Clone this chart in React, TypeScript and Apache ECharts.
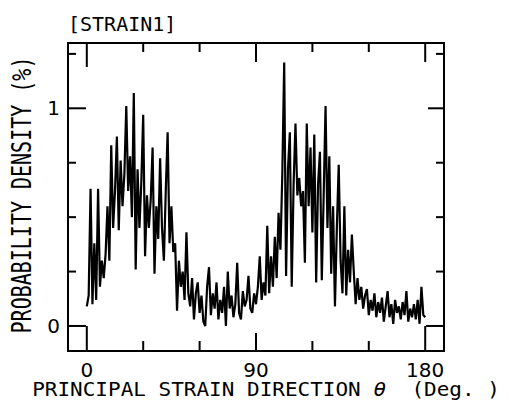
import React, { useEffect, useRef } from "react";
import * as echarts from "echarts";

// principal strain direction (deg), step of 1 deg from 0 to 180
const ANGLE_STEP = 1;
const density: number[] = [
  0.09, 0.14, 0.63, 0.10, 0.38, 0.12, 0.63, 0.18, 0.30, 0.22,
  0.33, 0.55, 0.30, 0.83, 0.45, 0.62, 0.87, 0.44, 0.76, 0.55,
  0.70, 1.01, 0.62, 0.78, 0.50, 1.07, 0.26, 0.72, 0.45, 0.66,
  0.97, 0.32, 0.60, 0.45, 0.58, 0.82, 0.24, 0.55, 0.40, 0.77,
  0.45, 0.30, 0.62, 0.89, 0.38, 0.55, 0.34, 0.38, 0.07, 0.30,
  0.18, 0.25, 0.12, 0.43, 0.15, 0.09, 0.22, 0.03, 0.15, 0.20,
  0.06, 0.14, 0.02, 0.00, 0.18, 0.27, 0.05, 0.15, 0.08, 0.20,
  0.03, 0.12, 0.06, 0.18, 0.00, 0.25, 0.08, 0.14, 0.04, 0.10,
  0.29, 0.06, 0.03, 0.16, 0.09, 0.12, 0.23, 0.08, 0.06, 0.15,
  0.10, 0.18, 0.32, 0.12, 0.20, 0.14, 0.46, 0.15, 0.32, 0.18,
  0.41, 0.22, 0.52, 0.35, 0.70, 1.21, 0.23, 0.72, 0.89, 0.18,
  0.65, 0.93, 0.60, 0.68, 0.55, 0.62, 0.29, 0.93, 0.55, 0.82,
  0.43, 0.88, 0.20, 0.65, 0.80, 0.21, 0.60, 1.01, 0.45, 0.78,
  0.24, 0.55, 0.09, 0.45, 0.74, 0.30, 0.15, 0.55, 0.14, 0.35,
  0.20, 0.42, 0.25, 0.10, 0.22, 0.12, 0.18, 0.08, 0.14, 0.17,
  0.05, 0.12, 0.07, 0.15, 0.04, 0.11, 0.06, 0.13, 0.02, 0.09,
  0.16, 0.04, 0.10, 0.01, 0.12, 0.06, 0.09, 0.03, 0.11, 0.05,
  0.16, 0.02, 0.08, 0.04, 0.10, 0.03, 0.12, 0.01, 0.18, 0.05,
  0.04,
];

const xLabelValues = [0, 90, 180];
const xTickValues = [0, 30, 60, 90, 120, 150, 180];
const yLabelValues = [0, 1];
const yTickValues = [0, 0.25, 0.5, 0.75, 1, 1.25];

const titleText = "[STRAIN1]";
const yTitle = "PROBABILITY DENSITY (%)";
const xTitleA = "PRINCIPAL STRAIN DIRECTION ";
const xTitleTheta = "θ";
const xTitleB = "  (Deg. )";

const X_MIN = -10;
const X_MAX = 190;
const Y_MIN = -0.115;
const Y_MAX = 1.3;

const MONO = '"DejaVu Sans Mono", monospace';
const TICK_STYLE = { stroke: "#000", lineWidth: 2 };

export default function App() {
  const ref = useRef<HTMLDivElement>(null);
  useEffect(() => {
    if (!ref.current) return;
    const chart = echarts.init(ref.current, null, { renderer: "svg" });
    const data = density.map((v, i) => [i * ANGLE_STEP, v]);

    const texts = [
      {
        type: "text",
        left: 68,
        top: 14,
        style: { text: titleText, font: `20px ${MONO}`, fill: "#000" },
      },
      {
        type: "text",
        x: 21,
        y: 195,
        rotation: Math.PI / 2,
        scaleY: 1.3,
        style: {
          text: yTitle,
          font: `20px ${MONO}`,
          fill: "#000",
          align: "center",
          verticalAlign: "middle",
        },
      },
      {
        type: "text",
        x: 266,
        y: 389,
        scaleY: 0.9,
        style: {
          text: `{a|${xTitleA}}{b|${xTitleTheta}}{a|${xTitleB}}`,
          align: "center",
          verticalAlign: "middle",
          rich: {
            a: { font: `21px ${MONO}`, fill: "#000" },
            b: { font: `italic 21px ${MONO}`, fill: "#000" },
          },
        },
      },
    ];

    chart.setOption({
      animation: false,
      backgroundColor: "#fff",
      grid: {
        left: 68,
        top: 43,
        right: 65,
        bottom: 64,
        show: true,
        borderColor: "#000",
        borderWidth: 2,
        backgroundColor: "transparent",
      },
      xAxis: {
        type: "value",
        min: X_MIN,
        max: X_MAX,
        axisLine: { show: false, onZero: false },
        axisTick: { show: false },
        splitLine: { show: false },
        axisLabel: {
          customValues: xLabelValues,
          color: "#000",
          fontSize: 20,
          fontFamily: '"DejaVu Sans", sans-serif',
          margin: 9,
        },
      },
      yAxis: {
        type: "value",
        min: Y_MIN,
        max: Y_MAX,
        axisLine: { show: false, onZero: false },
        axisTick: { show: false },
        splitLine: { show: false },
        axisLabel: {
          customValues: yLabelValues,
          color: "#000",
          fontSize: 20,
          fontFamily: '"DejaVu Sans", sans-serif',
          margin: 8,
        },
      },
      series: [
        {
          type: "line",
          data,
          showSymbol: false,
          symbol: "none",
          lineStyle: { color: "#000", width: 2.2 },
        },
      ],
      graphic: texts,
    });

    // tick marks placed through the chart's own scales
    const px = (v: [number, number]) => chart.convertToPixel({ gridIndex: 0 }, v) as number[];
    const ticks: any[] = [];
    xTickValues.forEach((v) => {
      const b = px([v, Y_MIN]);
      const t = px([v, Y_MAX]);
      const lb = v % 180 === 0 ? 25 : v % 90 === 0 ? 18 : 10;
      const lt = v === 0 ? 24 : v % 90 === 0 ? 19 : 9;
      ticks.push({ type: "line", shape: { x1: b[0], y1: b[1], x2: b[0], y2: b[1] - lb }, style: TICK_STYLE, z: 10 });
      ticks.push({ type: "line", shape: { x1: t[0], y1: t[1], x2: t[0], y2: t[1] + lt }, style: TICK_STYLE, z: 10 });
    });
    yTickValues.forEach((v) => {
      const l = px([X_MIN, v]);
      const r = px([X_MAX, v]);
      const ll = v === 0 || v === 1 ? 18 : 8;
      const lr = v === 0 ? 18 : v === 1 ? 16 : 8;
      ticks.push({ type: "line", shape: { x1: l[0], y1: l[1], x2: l[0] + ll, y2: l[1] }, style: TICK_STYLE, z: 10 });
      ticks.push({ type: "line", shape: { x1: r[0], y1: r[1], x2: r[0] - lr, y2: r[1] }, style: TICK_STYLE, z: 10 });
    });
    chart.setOption({ graphic: [...texts, ...ticks] });

    return () => chart.dispose();
  }, []);
  return (
    <div
      ref={ref}
      style={{ position: "fixed", left: 0, top: 0, width: 509, height: 415, background: "#fff" }}
    />
  );
}
